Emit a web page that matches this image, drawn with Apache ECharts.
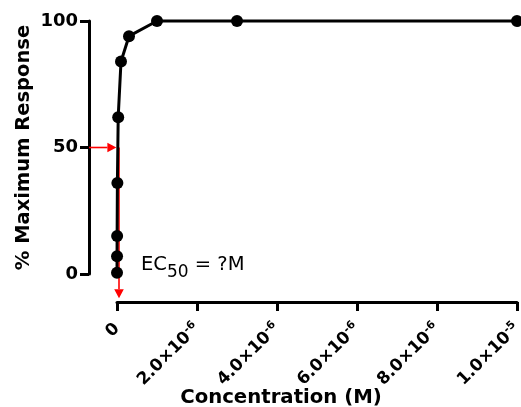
<!DOCTYPE html>
<html><head><meta charset="utf-8">
<script src="https://cdn.jsdelivr.net/npm/echarts@6/dist/echarts.min.js"></script>
<style>html,body{margin:0;padding:0;background:#fff}#c{width:521px;height:407px}</style>
</head><body><div id="c"></div>
<script>
// Data
const concentration = [3e-10, 1e-9, 3e-9, 1e-8, 3e-8, 1e-7, 3e-7, 1e-6, 3e-6, 1e-5];
const response = [0.5, 7, 15, 36, 62, 84, 94, 100, 100, 100];
const xTicks = [0, 2e-6, 4e-6, 6e-6, 8e-6, 1e-5];
const yTicks = [0, 50, 100];
// EC50 annotation arrows (data coordinates): start x, start y, tip x, tip y
const arrowStartX = [-0.7e-6, 0.05e-6];
const arrowStartY = [50, 50];
const arrowEndX = [-0.015e-6, 0.05e-6];
const arrowEndY = [50, -9.6];

const FONT = 'DejaVu Sans';
const chart = echarts.init(document.getElementById('c'), null, {renderer: 'canvas'});

function xLabel(v) {
  if (v === 0) return '{b|0}';
  const parts = v.toExponential(1).split('e');
  return '{b|' + parts[0] + '×10}{s|' + parts[1] + '}';
}

function renderArrow(params, api) {
  const p1 = api.coord([api.value(0), api.value(1)]);
  const p2 = api.coord([api.value(2), api.value(3)]);
  const dx = p2[0] - p1[0], dy = p2[1] - p1[1];
  const len = Math.sqrt(dx * dx + dy * dy) || 1;
  const ux = dx / len, uy = dy / len;
  const headLen = 9, headHalf = 4.8;
  const bx = p2[0] - ux * headLen, by = p2[1] - uy * headLen;
  return {
    type: 'group',
    children: [
      {type: 'line', shape: {x1: p1[0], y1: p1[1], x2: bx, y2: by},
       style: {stroke: '#ff0000', lineWidth: 1.6}},
      {type: 'polygon', shape: {points: [[p2[0], p2[1]], [bx - uy * headHalf, by + ux * headHalf], [bx + uy * headHalf, by - ux * headHalf]]},
       style: {fill: '#ff0000'}}
    ]
  };
}

chart.setOption({
  backgroundColor: '#fff',
  animation: false,
  grid: {left: 117, right: 4, top: 21, bottom: 133, containLabel: false, outerBoundsMode: 'none'},
  xAxis: {
    type: 'value', min: xTicks[0], max: xTicks[xTicks.length - 1], interval: xTicks[1] - xTicks[0],
    offset: 28,
    name: 'Concentration (M)', nameLocation: 'middle', nameGap: 86, nameMoveOverlap: false,
    nameTextStyle: {fontFamily: FONT, fontWeight: 'bold', fontSize: 19.7, color: '#000', padding: [0, 72, 0, 0]},
    axisLine: {onZero: false, lineStyle: {color: '#000', width: 3}},
    axisTick: {length: 9, lineStyle: {color: '#000', width: 3}},
    splitLine: {show: false},
    axisLabel: {
      rotate: 45, margin: 24, formatter: xLabel,
      rich: {
        b: {fontFamily: FONT, fontWeight: 'bold', fontSize: 17, color: '#000', lineHeight: 17},
        s: {fontFamily: FONT, fontWeight: 'bold', fontSize: 11, color: '#000', lineHeight: 11, padding: [0, 0, 9, 0]}
      }
    }
  },
  yAxis: {
    type: 'value', min: yTicks[0], max: yTicks[yTicks.length - 1], interval: yTicks[1] - yTicks[0],
    offset: 28,
    name: '% Maximum Response', nameLocation: 'middle', nameGap: 55, nameMoveOverlap: false,
    nameTextStyle: {fontFamily: FONT, fontWeight: 'bold', fontSize: 19.5, color: '#000'},
    axisLine: {show: true, onZero: false, lineStyle: {color: '#000', width: 3}},
    axisTick: {show: true, length: 9, lineStyle: {color: '#000', width: 3}},
    splitLine: {show: false},
    axisLabel: {fontFamily: FONT, fontWeight: 'bold', fontSize: 18, color: '#000', margin: 11}
  },
  graphic: [{
    type: 'text', left: 141, top: 249, z: 10,
    style: {
      text: '{n|EC}{sub|50}{n| = ?M}',
      rich: {
        n: {fontFamily: FONT, fontSize: 19.5, fill: '#000', lineHeight: 20},
        sub: {fontFamily: FONT, fontSize: 17, fill: '#000', lineHeight: 17, padding: [15, 0, 0, 0]}
      }
    }
  }],
  series: [
    {
      type: 'custom', renderItem: renderArrow, clip: false, z: 2, silent: true,
      encode: {x: [0, 2], y: [1, 3]},
      data: arrowStartX.map((x, i) => [x, arrowStartY[i], arrowEndX[i], arrowEndY[i]])
    },
    {
      type: 'line', data: concentration.map((x, i) => [x, response[i]]),
      symbol: 'circle', symbolSize: 12,
      lineStyle: {color: '#000', width: 3}, itemStyle: {color: '#000'},
      clip: false, z: 5, silent: true
    }
  ]
});
</script></body></html>
